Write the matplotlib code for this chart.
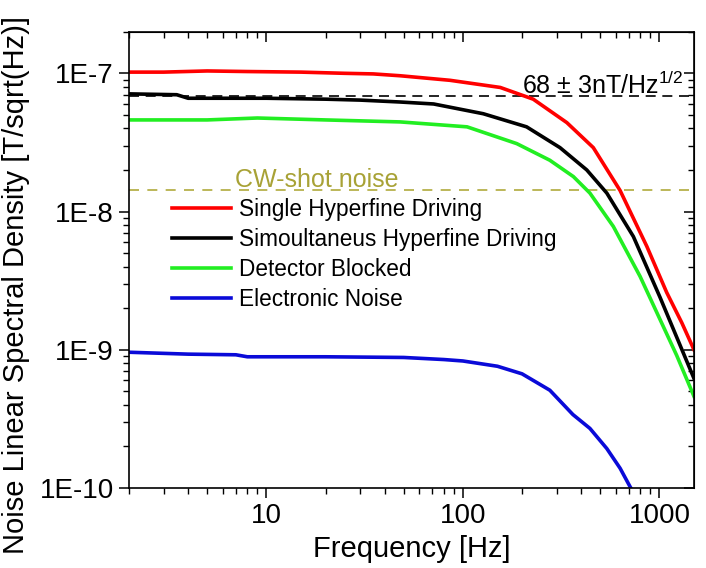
import matplotlib
matplotlib.use("Agg")
import matplotlib.pyplot as plt
from matplotlib.ticker import LogLocator, FuncFormatter, NullFormatter
import numpy as np

plt.rcParams['font.family'] = ['Liberation Sans', 'DejaVu Sans']
plt.rcParams['mathtext.fontset'] = 'custom'
plt.rcParams['mathtext.rm'] = 'Liberation Sans'
plt.rcParams['mathtext.it'] = 'Liberation Sans'
plt.rcParams['mathtext.default'] = 'regular'

# frequency [Hz] and noise density [T/sqrt(Hz)]
freqSingle = [2, 3, 5, 8, 15, 25, 35, 48, 86, 155, 228, 338, 461, 631, 863, 1089, 1300, 1500]
noiseSingle = [1.02e-7, 1.02e-7, 1.04e-7, 1.03e-7, 1.02e-7, 1.0e-7, 9.9e-8, 9.6e-8, 8.9e-8,
               7.9e-8, 6.5e-8, 4.4e-8, 2.9e-8, 1.42e-8, 5.6e-9, 2.6e-9, 1.57e-9, 1.0e-9]

freqSimul = [2, 3.5, 4, 10, 20, 30, 48, 71, 127, 211, 312, 427, 540, 737, 1007, 1353, 1500]
noiseSimul = [7.1e-8, 7.0e-8, 6.6e-8, 6.6e-8, 6.5e-8, 6.4e-8, 6.2e-8, 6.0e-8, 5.1e-8,
              4.1e-8, 2.9e-8, 2.0e-8, 1.36e-8, 6.6e-9, 2.4e-9, 8.8e-10, 6.2e-10]

freqBlocked = [2, 5, 9, 20, 48, 105, 188, 277, 365, 443, 583, 797, 1225, 1500]
noiseBlocked = [4.6e-8, 4.6e-8, 4.75e-8, 4.6e-8, 4.45e-8, 4.1e-8, 3.1e-8, 2.35e-8,
                1.79e-8, 1.36e-8, 7.8e-9, 3.4e-9, 9.1e-10, 4.6e-10]

freqElec = [2, 4, 7, 8, 20, 50, 80, 100, 150, 200, 277, 363, 443, 540, 631, 702, 730]
noiseElec = [9.6e-10, 9.3e-10, 9.2e-10, 8.9e-10, 8.9e-10, 8.8e-10, 8.5e-10, 8.3e-10, 7.6e-10,
             6.7e-10, 5.1e-10, 3.4e-10, 2.7e-10, 1.93e-10, 1.39e-10, 1.05e-10, 9.5e-11]

sensitivity = 6.8e-8
shotNoise = 1.42e-8

# figure
fig = plt.figure(figsize=(7.06, 5.68), dpi=100)
ax = fig.add_axes([0.1827, 0.1408, 0.8003, 0.8034])

ax.axhline(sensitivity, color="black", lw=1.2, ls=(0, (6, 4)), zorder=1)
ax.axhline(shotNoise, color="#b0aa3c", lw=1.2, ls=(0, (6, 5)), zorder=1)

ax.plot(freqSingle, noiseSingle, color="#ff0000", lw=2.6, label="Single Hyperfine Driving")
ax.plot(freqSimul, noiseSimul, color="#000000", lw=2.6, label="Simoultaneus Hyperfine Driving")
ax.plot(freqBlocked, noiseBlocked, color="#22ee22", lw=2.6, label="Detector Blocked")
ax.plot(freqElec, noiseElec, color="#0a0ad8", lw=2.6, label="Electronic Noise")

ax.set_xscale("log")
ax.set_yscale("log")
ax.set_xlim(2, 1500)
ax.set_ylim(1e-10, 2e-7)

# tick labels like 1E-7
ax.yaxis.set_major_locator(LogLocator(base=10, numticks=10))
ax.yaxis.set_major_formatter(FuncFormatter(lambda v, p: "1E%d" % round(np.log10(v))))
ax.xaxis.set_major_formatter(FuncFormatter(lambda v, p: "%d" % round(v)))
ax.xaxis.set_minor_formatter(NullFormatter())
ax.yaxis.set_minor_formatter(NullFormatter())
ax.tick_params(which="major", direction="out", length=7, width=1.1, labelsize=20, pad=4)
ax.tick_params(which="minor", direction="out", length=4, width=1.0)

# mirrored ticks on top and right, pointing inward
top = ax.secondary_xaxis("top")
top.tick_params(which="major", direction="in", length=7, width=1.1, labeltop=False)
top.tick_params(which="minor", direction="in", length=4, width=1.0, labeltop=False)
right = ax.secondary_yaxis("right")
right.tick_params(which="major", direction="in", length=7, width=1.1, labelright=False)
right.tick_params(which="minor", direction="in", length=4, width=1.0, labelright=False)

for s in ax.spines.values():
    s.set_linewidth(1.2)

ax.text(6.9, 1.5e-8, "CW-shot noise", color="#a8a236", fontsize=18, va="baseline")
ax.text(200, 7.1e-8, "68 \u00b1 3nT/Hz$^{1/2}$", color="black", fontsize=18, va="baseline")

ax.set_xlabel("Frequency [Hz]", fontsize=21, labelpad=4)
ax.set_ylabel("Noise Linear Spectral Density [T/sqrt(Hz)]", fontsize=21)
ax.yaxis.set_label_coords(-0.175, 0.445)

ax.legend(loc="upper left", bbox_to_anchor=(0.076, 0.635), frameon=False, fontsize=16.3,
          handlelength=2.6, handletextpad=0.35, labelspacing=0.3, borderpad=0, borderaxespad=0)

fig.savefig("out.png", dpi=100)
